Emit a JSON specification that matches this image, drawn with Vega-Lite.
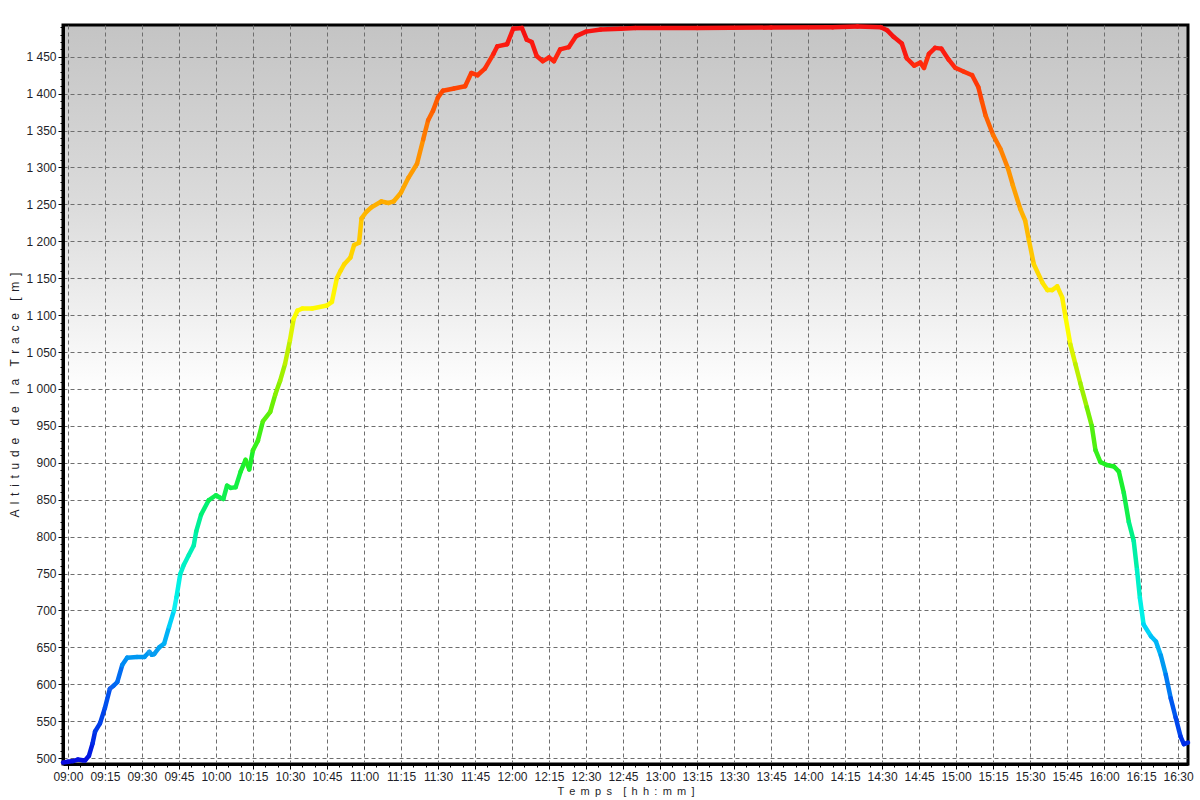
{
  "$schema": "https://vega.github.io/schema/vega-lite/v6.json",
  "width": 1125,
  "height": 739,
  "autosize": "none",
  "padding": {"left": 63, "top": 25, "right": 12, "bottom": 36},
  "background": "#ffffff",
  "config": {
    "locale": {"number": {"decimal": ",", "thousands": " ", "grouping": [3], "currency": ["", " €"]}},
    "view": {
      "stroke": "#000000",
      "strokeWidth": 3,
      "fill": {
        "gradient": "linear",
        "x1": 0, "y1": 0, "x2": 0, "y2": 1,
        "stops": [
          {"offset": 0, "color": "#c4c4c4"},
          {"offset": 0.25, "color": "#dcdcdc"},
          {"offset": 0.5, "color": "#ffffff"},
          {"offset": 1, "color": "#ffffff"}
        ]
      }
    },
    "axis": {
      "labelFont": "Liberation Sans",
      "labelFontSize": 12,
      "labelColor": "#1e1e28",
      "titleFont": "Liberation Sans",
      "titleFontSize": 11.5,
      "titleFontWeight": "normal",
      "titleColor": "#1e1e28"
    }
  },
  "data": {
    "values": [
      {"time": "1900-01-01T08:58:00", "alt": 494},
      {"time": "1900-01-01T09:00:00", "alt": 495},
      {"time": "1900-01-01T09:02:00", "alt": 496},
      {"time": "1900-01-01T09:04:00", "alt": 498},
      {"time": "1900-01-01T09:06:00", "alt": 497},
      {"time": "1900-01-01T09:07:00", "alt": 497},
      {"time": "1900-01-01T09:08:30", "alt": 503},
      {"time": "1900-01-01T09:10:00", "alt": 520},
      {"time": "1900-01-01T09:11:00", "alt": 536},
      {"time": "1900-01-01T09:13:00", "alt": 547},
      {"time": "1900-01-01T09:15:00", "alt": 568},
      {"time": "1900-01-01T09:17:00", "alt": 594},
      {"time": "1900-01-01T09:18:30", "alt": 598},
      {"time": "1900-01-01T09:20:00", "alt": 603},
      {"time": "1900-01-01T09:22:00", "alt": 626},
      {"time": "1900-01-01T09:24:00", "alt": 636},
      {"time": "1900-01-01T09:28:00", "alt": 637},
      {"time": "1900-01-01T09:31:00", "alt": 637},
      {"time": "1900-01-01T09:33:00", "alt": 644},
      {"time": "1900-01-01T09:34:00", "alt": 640},
      {"time": "1900-01-01T09:35:00", "alt": 641},
      {"time": "1900-01-01T09:37:00", "alt": 650},
      {"time": "1900-01-01T09:39:00", "alt": 655},
      {"time": "1900-01-01T09:41:00", "alt": 678},
      {"time": "1900-01-01T09:43:00", "alt": 700},
      {"time": "1900-01-01T09:44:00", "alt": 718},
      {"time": "1900-01-01T09:45:30", "alt": 749},
      {"time": "1900-01-01T09:47:00", "alt": 762},
      {"time": "1900-01-01T09:49:00", "alt": 775},
      {"time": "1900-01-01T09:51:00", "alt": 788},
      {"time": "1900-01-01T09:52:00", "alt": 807},
      {"time": "1900-01-01T09:54:00", "alt": 830},
      {"time": "1900-01-01T09:57:00", "alt": 849},
      {"time": "1900-01-01T10:00:00", "alt": 856},
      {"time": "1900-01-01T10:01:30", "alt": 853},
      {"time": "1900-01-01T10:03:00", "alt": 851},
      {"time": "1900-01-01T10:04:30", "alt": 869},
      {"time": "1900-01-01T10:06:00", "alt": 866},
      {"time": "1900-01-01T10:08:00", "alt": 867},
      {"time": "1900-01-01T10:10:00", "alt": 888},
      {"time": "1900-01-01T10:12:00", "alt": 904},
      {"time": "1900-01-01T10:13:30", "alt": 891},
      {"time": "1900-01-01T10:15:00", "alt": 917},
      {"time": "1900-01-01T10:17:00", "alt": 930},
      {"time": "1900-01-01T10:19:00", "alt": 956},
      {"time": "1900-01-01T10:22:00", "alt": 969},
      {"time": "1900-01-01T10:24:00", "alt": 992},
      {"time": "1900-01-01T10:26:00", "alt": 1011},
      {"time": "1900-01-01T10:28:00", "alt": 1034},
      {"time": "1900-01-01T10:30:00", "alt": 1066},
      {"time": "1900-01-01T10:31:30", "alt": 1095},
      {"time": "1900-01-01T10:33:00", "alt": 1106},
      {"time": "1900-01-01T10:35:00", "alt": 1109},
      {"time": "1900-01-01T10:39:00", "alt": 1109},
      {"time": "1900-01-01T10:45:00", "alt": 1113},
      {"time": "1900-01-01T10:47:00", "alt": 1118},
      {"time": "1900-01-01T10:49:00", "alt": 1150},
      {"time": "1900-01-01T10:50:30", "alt": 1160},
      {"time": "1900-01-01T10:52:00", "alt": 1169},
      {"time": "1900-01-01T10:54:30", "alt": 1178},
      {"time": "1900-01-01T10:56:00", "alt": 1195},
      {"time": "1900-01-01T10:58:00", "alt": 1198},
      {"time": "1900-01-01T10:59:00", "alt": 1231},
      {"time": "1900-01-01T11:01:00", "alt": 1240},
      {"time": "1900-01-01T11:03:00", "alt": 1246},
      {"time": "1900-01-01T11:07:00", "alt": 1254},
      {"time": "1900-01-01T11:10:00", "alt": 1252},
      {"time": "1900-01-01T11:12:00", "alt": 1254},
      {"time": "1900-01-01T11:15:00", "alt": 1266},
      {"time": "1900-01-01T11:18:00", "alt": 1286},
      {"time": "1900-01-01T11:21:30", "alt": 1305},
      {"time": "1900-01-01T11:24:00", "alt": 1338},
      {"time": "1900-01-01T11:26:00", "alt": 1364},
      {"time": "1900-01-01T11:28:00", "alt": 1377},
      {"time": "1900-01-01T11:30:00", "alt": 1395},
      {"time": "1900-01-01T11:32:00", "alt": 1404},
      {"time": "1900-01-01T11:36:30", "alt": 1407},
      {"time": "1900-01-01T11:41:00", "alt": 1410},
      {"time": "1900-01-01T11:43:30", "alt": 1428},
      {"time": "1900-01-01T11:46:00", "alt": 1425},
      {"time": "1900-01-01T11:49:00", "alt": 1434},
      {"time": "1900-01-01T11:52:30", "alt": 1454},
      {"time": "1900-01-01T11:54:00", "alt": 1464},
      {"time": "1900-01-01T11:58:00", "alt": 1467},
      {"time": "1900-01-01T12:00:30", "alt": 1488},
      {"time": "1900-01-01T12:04:00", "alt": 1489},
      {"time": "1900-01-01T12:06:00", "alt": 1473},
      {"time": "1900-01-01T12:08:00", "alt": 1470},
      {"time": "1900-01-01T12:10:00", "alt": 1451},
      {"time": "1900-01-01T12:12:30", "alt": 1444},
      {"time": "1900-01-01T12:15:00", "alt": 1449},
      {"time": "1900-01-01T12:17:00", "alt": 1444},
      {"time": "1900-01-01T12:19:30", "alt": 1460},
      {"time": "1900-01-01T12:23:00", "alt": 1463},
      {"time": "1900-01-01T12:26:00", "alt": 1478},
      {"time": "1900-01-01T12:30:00", "alt": 1484},
      {"time": "1900-01-01T12:36:00", "alt": 1487},
      {"time": "1900-01-01T12:44:00", "alt": 1488},
      {"time": "1900-01-01T12:50:00", "alt": 1489},
      {"time": "1900-01-01T13:15:00", "alt": 1489},
      {"time": "1900-01-01T13:45:00", "alt": 1489.5},
      {"time": "1900-01-01T14:10:00", "alt": 1490},
      {"time": "1900-01-01T14:20:00", "alt": 1491},
      {"time": "1900-01-01T14:29:30", "alt": 1490},
      {"time": "1900-01-01T14:32:00", "alt": 1486},
      {"time": "1900-01-01T14:34:40", "alt": 1477},
      {"time": "1900-01-01T14:38:00", "alt": 1468},
      {"time": "1900-01-01T14:40:00", "alt": 1448},
      {"time": "1900-01-01T14:43:00", "alt": 1438},
      {"time": "1900-01-01T14:45:30", "alt": 1442},
      {"time": "1900-01-01T14:47:00", "alt": 1435},
      {"time": "1900-01-01T14:49:00", "alt": 1454},
      {"time": "1900-01-01T14:51:30", "alt": 1462},
      {"time": "1900-01-01T14:54:00", "alt": 1461},
      {"time": "1900-01-01T14:57:00", "alt": 1446},
      {"time": "1900-01-01T14:59:40", "alt": 1435},
      {"time": "1900-01-01T15:03:00", "alt": 1430},
      {"time": "1900-01-01T15:06:30", "alt": 1425},
      {"time": "1900-01-01T15:09:00", "alt": 1409},
      {"time": "1900-01-01T15:10:30", "alt": 1389},
      {"time": "1900-01-01T15:12:00", "alt": 1370},
      {"time": "1900-01-01T15:15:00", "alt": 1344},
      {"time": "1900-01-01T15:18:00", "alt": 1325},
      {"time": "1900-01-01T15:21:00", "alt": 1299},
      {"time": "1900-01-01T15:23:00", "alt": 1276},
      {"time": "1900-01-01T15:26:00", "alt": 1244},
      {"time": "1900-01-01T15:28:00", "alt": 1228},
      {"time": "1900-01-01T15:29:30", "alt": 1202},
      {"time": "1900-01-01T15:31:30", "alt": 1169},
      {"time": "1900-01-01T15:35:00", "alt": 1144},
      {"time": "1900-01-01T15:37:00", "alt": 1134},
      {"time": "1900-01-01T15:39:00", "alt": 1134},
      {"time": "1900-01-01T15:41:00", "alt": 1139},
      {"time": "1900-01-01T15:43:00", "alt": 1124},
      {"time": "1900-01-01T15:44:20", "alt": 1098},
      {"time": "1900-01-01T15:46:20", "alt": 1060},
      {"time": "1900-01-01T15:48:20", "alt": 1034},
      {"time": "1900-01-01T15:50:20", "alt": 1008},
      {"time": "1900-01-01T15:53:00", "alt": 975},
      {"time": "1900-01-01T15:55:00", "alt": 950},
      {"time": "1900-01-01T15:56:30", "alt": 917},
      {"time": "1900-01-01T15:58:30", "alt": 901},
      {"time": "1900-01-01T16:01:00", "alt": 897},
      {"time": "1900-01-01T16:04:00", "alt": 895},
      {"time": "1900-01-01T16:06:00", "alt": 888},
      {"time": "1900-01-01T16:08:00", "alt": 859},
      {"time": "1900-01-01T16:10:00", "alt": 820},
      {"time": "1900-01-01T16:12:00", "alt": 794},
      {"time": "1900-01-01T16:13:20", "alt": 755},
      {"time": "1900-01-01T16:14:30", "alt": 717},
      {"time": "1900-01-01T16:16:00", "alt": 681},
      {"time": "1900-01-01T16:19:00", "alt": 665},
      {"time": "1900-01-01T16:21:00", "alt": 658},
      {"time": "1900-01-01T16:23:00", "alt": 639},
      {"time": "1900-01-01T16:25:00", "alt": 613},
      {"time": "1900-01-01T16:27:00", "alt": 581},
      {"time": "1900-01-01T16:29:00", "alt": 555},
      {"time": "1900-01-01T16:31:00", "alt": 529},
      {"time": "1900-01-01T16:32:20", "alt": 519},
      {"time": "1900-01-01T16:34:00", "alt": 521}
    ]
  },
  "layer": [
    {
      "mark": {"type": "line", "strokeOpacity": 0},
      "encoding": {
        "x": {
          "field": "time",
          "type": "temporal",
          "axis": {
            "orient": "bottom",
            "values": [
              {"year": 1900, "month": 1, "date": 1, "hours": 9, "minutes": 5},
              {"year": 1900, "month": 1, "date": 1, "hours": 9, "minutes": 10},
              {"year": 1900, "month": 1, "date": 1, "hours": 9, "minutes": 20},
              {"year": 1900, "month": 1, "date": 1, "hours": 9, "minutes": 25},
              {"year": 1900, "month": 1, "date": 1, "hours": 9, "minutes": 35},
              {"year": 1900, "month": 1, "date": 1, "hours": 9, "minutes": 40},
              {"year": 1900, "month": 1, "date": 1, "hours": 9, "minutes": 50},
              {"year": 1900, "month": 1, "date": 1, "hours": 9, "minutes": 55},
              {"year": 1900, "month": 1, "date": 1, "hours": 10, "minutes": 5},
              {"year": 1900, "month": 1, "date": 1, "hours": 10, "minutes": 10},
              {"year": 1900, "month": 1, "date": 1, "hours": 10, "minutes": 20},
              {"year": 1900, "month": 1, "date": 1, "hours": 10, "minutes": 25},
              {"year": 1900, "month": 1, "date": 1, "hours": 10, "minutes": 35},
              {"year": 1900, "month": 1, "date": 1, "hours": 10, "minutes": 40},
              {"year": 1900, "month": 1, "date": 1, "hours": 10, "minutes": 50},
              {"year": 1900, "month": 1, "date": 1, "hours": 10, "minutes": 55},
              {"year": 1900, "month": 1, "date": 1, "hours": 11, "minutes": 5},
              {"year": 1900, "month": 1, "date": 1, "hours": 11, "minutes": 10},
              {"year": 1900, "month": 1, "date": 1, "hours": 11, "minutes": 20},
              {"year": 1900, "month": 1, "date": 1, "hours": 11, "minutes": 25},
              {"year": 1900, "month": 1, "date": 1, "hours": 11, "minutes": 35},
              {"year": 1900, "month": 1, "date": 1, "hours": 11, "minutes": 40},
              {"year": 1900, "month": 1, "date": 1, "hours": 11, "minutes": 50},
              {"year": 1900, "month": 1, "date": 1, "hours": 11, "minutes": 55},
              {"year": 1900, "month": 1, "date": 1, "hours": 12, "minutes": 5},
              {"year": 1900, "month": 1, "date": 1, "hours": 12, "minutes": 10},
              {"year": 1900, "month": 1, "date": 1, "hours": 12, "minutes": 20},
              {"year": 1900, "month": 1, "date": 1, "hours": 12, "minutes": 25},
              {"year": 1900, "month": 1, "date": 1, "hours": 12, "minutes": 35},
              {"year": 1900, "month": 1, "date": 1, "hours": 12, "minutes": 40},
              {"year": 1900, "month": 1, "date": 1, "hours": 12, "minutes": 50},
              {"year": 1900, "month": 1, "date": 1, "hours": 12, "minutes": 55},
              {"year": 1900, "month": 1, "date": 1, "hours": 13, "minutes": 5},
              {"year": 1900, "month": 1, "date": 1, "hours": 13, "minutes": 10},
              {"year": 1900, "month": 1, "date": 1, "hours": 13, "minutes": 20},
              {"year": 1900, "month": 1, "date": 1, "hours": 13, "minutes": 25},
              {"year": 1900, "month": 1, "date": 1, "hours": 13, "minutes": 35},
              {"year": 1900, "month": 1, "date": 1, "hours": 13, "minutes": 40},
              {"year": 1900, "month": 1, "date": 1, "hours": 13, "minutes": 50},
              {"year": 1900, "month": 1, "date": 1, "hours": 13, "minutes": 55},
              {"year": 1900, "month": 1, "date": 1, "hours": 14, "minutes": 5},
              {"year": 1900, "month": 1, "date": 1, "hours": 14, "minutes": 10},
              {"year": 1900, "month": 1, "date": 1, "hours": 14, "minutes": 20},
              {"year": 1900, "month": 1, "date": 1, "hours": 14, "minutes": 25},
              {"year": 1900, "month": 1, "date": 1, "hours": 14, "minutes": 35},
              {"year": 1900, "month": 1, "date": 1, "hours": 14, "minutes": 40},
              {"year": 1900, "month": 1, "date": 1, "hours": 14, "minutes": 50},
              {"year": 1900, "month": 1, "date": 1, "hours": 14, "minutes": 55},
              {"year": 1900, "month": 1, "date": 1, "hours": 15, "minutes": 5},
              {"year": 1900, "month": 1, "date": 1, "hours": 15, "minutes": 10},
              {"year": 1900, "month": 1, "date": 1, "hours": 15, "minutes": 20},
              {"year": 1900, "month": 1, "date": 1, "hours": 15, "minutes": 25},
              {"year": 1900, "month": 1, "date": 1, "hours": 15, "minutes": 35},
              {"year": 1900, "month": 1, "date": 1, "hours": 15, "minutes": 40},
              {"year": 1900, "month": 1, "date": 1, "hours": 15, "minutes": 50},
              {"year": 1900, "month": 1, "date": 1, "hours": 15, "minutes": 55},
              {"year": 1900, "month": 1, "date": 1, "hours": 16, "minutes": 5},
              {"year": 1900, "month": 1, "date": 1, "hours": 16, "minutes": 10},
              {"year": 1900, "month": 1, "date": 1, "hours": 16, "minutes": 20},
              {"year": 1900, "month": 1, "date": 1, "hours": 16, "minutes": 25}
            ],
            "labels": false,
            "grid": false,
            "domain": false,
            "ticks": true,
            "tickColor": "#000000",
            "tickSize": 3,
            "title": null
          }
        },
        "y": {
          "field": "alt",
          "type": "quantitative",
          "axis": {
            "orient": "left",
            "values": [510, 520, 530, 540, 560, 570, 580, 590, 610, 620, 630, 640, 660, 670, 680, 690, 710, 720, 730, 740, 760, 770, 780, 790, 810, 820, 830, 840, 860, 870, 880, 890, 910, 920, 930, 940, 960, 970, 980, 990, 1010, 1020, 1030, 1040, 1060, 1070, 1080, 1090, 1110, 1120, 1130, 1140, 1160, 1170, 1180, 1190, 1210, 1220, 1230, 1240, 1260, 1270, 1280, 1290, 1310, 1320, 1330, 1340, 1360, 1370, 1380, 1390, 1410, 1420, 1430, 1440, 1460, 1470, 1480, 1490],
            "labels": false,
            "grid": false,
            "domain": false,
            "ticks": true,
            "tickColor": "#000000",
            "tickSize": 3,
            "title": null
          }
        }
      }
    },
    {
      "transform": [
        {"window": [{"op": "lead", "field": "time", "as": "time2"}, {"op": "lead", "field": "alt", "as": "alt2"}], "sort": [{"field": "time"}]},
        {"filter": "datum.alt2 != null"}
      ],
      "mark": {"type": "rule", "strokeWidth": 4.5, "strokeCap": "round"},
      "encoding": {
        "x": {
          "field": "time",
          "type": "temporal",
          "scale": {"nice": false},
          "axis": {
            "orient": "bottom",
            "format": "%H:%M",
            "values": [
              {"year": 1900, "month": 1, "date": 1, "hours": 9, "minutes": 0},
              {"year": 1900, "month": 1, "date": 1, "hours": 9, "minutes": 15},
              {"year": 1900, "month": 1, "date": 1, "hours": 9, "minutes": 30},
              {"year": 1900, "month": 1, "date": 1, "hours": 9, "minutes": 45},
              {"year": 1900, "month": 1, "date": 1, "hours": 10, "minutes": 0},
              {"year": 1900, "month": 1, "date": 1, "hours": 10, "minutes": 15},
              {"year": 1900, "month": 1, "date": 1, "hours": 10, "minutes": 30},
              {"year": 1900, "month": 1, "date": 1, "hours": 10, "minutes": 45},
              {"year": 1900, "month": 1, "date": 1, "hours": 11, "minutes": 0},
              {"year": 1900, "month": 1, "date": 1, "hours": 11, "minutes": 15},
              {"year": 1900, "month": 1, "date": 1, "hours": 11, "minutes": 30},
              {"year": 1900, "month": 1, "date": 1, "hours": 11, "minutes": 45},
              {"year": 1900, "month": 1, "date": 1, "hours": 12, "minutes": 0},
              {"year": 1900, "month": 1, "date": 1, "hours": 12, "minutes": 15},
              {"year": 1900, "month": 1, "date": 1, "hours": 12, "minutes": 30},
              {"year": 1900, "month": 1, "date": 1, "hours": 12, "minutes": 45},
              {"year": 1900, "month": 1, "date": 1, "hours": 13, "minutes": 0},
              {"year": 1900, "month": 1, "date": 1, "hours": 13, "minutes": 15},
              {"year": 1900, "month": 1, "date": 1, "hours": 13, "minutes": 30},
              {"year": 1900, "month": 1, "date": 1, "hours": 13, "minutes": 45},
              {"year": 1900, "month": 1, "date": 1, "hours": 14, "minutes": 0},
              {"year": 1900, "month": 1, "date": 1, "hours": 14, "minutes": 15},
              {"year": 1900, "month": 1, "date": 1, "hours": 14, "minutes": 30},
              {"year": 1900, "month": 1, "date": 1, "hours": 14, "minutes": 45},
              {"year": 1900, "month": 1, "date": 1, "hours": 15, "minutes": 0},
              {"year": 1900, "month": 1, "date": 1, "hours": 15, "minutes": 15},
              {"year": 1900, "month": 1, "date": 1, "hours": 15, "minutes": 30},
              {"year": 1900, "month": 1, "date": 1, "hours": 15, "minutes": 45},
              {"year": 1900, "month": 1, "date": 1, "hours": 16, "minutes": 0},
              {"year": 1900, "month": 1, "date": 1, "hours": 16, "minutes": 15},
              {"year": 1900, "month": 1, "date": 1, "hours": 16, "minutes": 30}
            ],
            "labelFlush": false,
            "labelOverlap": false,
            "grid": true,
            "gridColor": "#6e6e6e",
            "gridDash": [4, 3],
            "gridWidth": 1,
            "domainColor": "#000000",
            "domainWidth": 3,
            "tickColor": "#000000",
            "tickSize": 5,
            "labelPadding": 2,
            "title": "T \u2009e \u2009m \u2009p \u2009s \u00a0\u00a0\u2009[ \u2009h \u2009h \u2009: \u2009m \u2009m \u2009]",
            "titleFontSize": 11,
            "titlePadding": 3
          }
        },
        "x2": {"field": "time2"},
        "y": {
          "field": "alt",
          "type": "quantitative",
          "scale": {"domain": [492, 1493], "nice": false, "zero": false},
          "axis": {
            "orient": "left",
            "values": [500, 550, 600, 650, 700, 750, 800, 850, 900, 950, 1000, 1050, 1100, 1150, 1200, 1250, 1300, 1350, 1400, 1450],
            "format": ",.0f",
            "labelOverlap": false,
            "grid": true,
            "gridColor": "#6e6e6e",
            "gridDash": [4, 3],
            "gridWidth": 1,
            "domainColor": "#000000",
            "domainWidth": 3,
            "tickColor": "#000000",
            "tickSize": 5,
            "labelPadding": 2,
            "title": "A \u2009l \u2009t \u2009i \u2009t \u2009u \u2009d \u2009e \u00a0\u00a0\u2009d \u2009e \u00a0\u00a0\u2009l \u2009a \u00a0\u00a0\u2009T \u2009r \u2009a \u2009c \u2009e \u00a0\u00a0\u2009[ \u2009m \u2009]",
            "titleFontSize": 12,
            "titlePadding": 4
          }
        },
        "y2": {"field": "alt2"},
        "color": {
          "field": "alt",
          "type": "quantitative",
          "legend": null,
          "scale": {
            "domain": [494, 594, 644, 700, 800, 850, 900, 950, 1000, 1050, 1100, 1200, 1300, 1350, 1400, 1450, 1491],
            "range": ["#0a0ae0", "#1060f0", "#1aa0f0", "#10f0f0", "#00f0a0", "#10f050", "#20f020", "#50f010", "#90f000", "#d0f000", "#ffff00", "#ffc800", "#ff9400", "#ff7000", "#ff4800", "#ff2010", "#f51010"]
          }
        }
      }
    }
  ],
  "resolve": {"axis": {"x": "independent", "y": "independent"}}
}
